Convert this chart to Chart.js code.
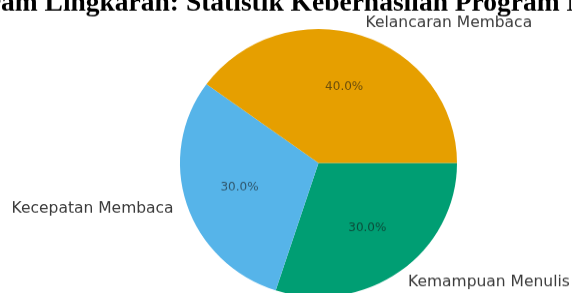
<!DOCTYPE html>
<html>
<head>
<meta charset="utf-8">
<script src="https://cdn.jsdelivr.net/npm/chart.js@4"></script>
<style>
  html, body { margin: 0; padding: 0; background: #fff; overflow: hidden; }
  #wrap { width: 572px; height: 293px; overflow: hidden; position: relative; }
  /* source picture is slightly squashed vertically */
  #inner { transform: scaleY(0.967); transform-origin: 0 0; }
</style>
</head>
<body>
<div id="wrap"><div id="inner"><canvas id="myChart" width="572" height="330"></canvas></div></div>
<script>
const title = "Diagram Lingkaran: Statistik Keberhasilan Program Membaca";
const categories = ["Kelancaran Membaca", "Kecepatan Membaca", "Kemampuan Menulis"];
const values = [40, 30, 30];
const colors = ["#E69F00", "#56B4E9", "#009E73"];

// matplotlib goes counter-clockwise from 3 o'clock, Chart.js clockwise -> reverse
const order = [2, 1, 0];
const total = values.reduce((a, b) => a + b, 0);

const pieLabels = {
  id: "pieLabels",
  afterDatasetsDraw(chart) {
    const ctx = chart.ctx;
    const meta = chart.getDatasetMeta(0);
    ctx.save();
    meta.data.forEach((arc, i) => {
      const idx = order[i];
      const mid = (arc.startAngle + arc.endAngle) / 2;
      const r = arc.outerRadius;
      const c = Math.cos(mid), s = Math.sin(mid);
      // outer label
      ctx.font = "15.5px 'DejaVu Sans'";
      ctx.fillStyle = "#3a3a3a";
      ctx.textBaseline = "middle";
      ctx.textAlign = c >= 0 ? "left" : "right";
      ctx.fillText(categories[idx], arc.x + 1.1 * r * c, arc.y + 1.1 * r * s);
      // percentage
      ctx.font = "12px 'DejaVu Sans'";
      ctx.fillStyle = "rgba(20,20,20,0.6)";
      ctx.textAlign = "center";
      const pct = (values[idx] / total * 100).toFixed(1) + "%";
      ctx.fillText(pct, arc.x + 0.6 * r * c, arc.y + 0.6 * r * s);
    });
    // title, cut off at the top like the source picture
    ctx.font = "bold 27.5px 'Liberation Serif'";
    ctx.fillStyle = "#000";
    ctx.textAlign = "left";
    ctx.textBaseline = "alphabetic";
    const off = ctx.measureText("Diagr").width;
    ctx.fillText(title, -off + 1, 10.5);
    ctx.restore();
  }
};

new Chart("myChart", {
  type: "pie",
  data: {
    labels: order.map(i => categories[i]),
    datasets: [{
      data: order.map(i => values[i]),
      backgroundColor: order.map(i => colors[i]),
      borderWidth: 0
    }]
  },
  options: {
    responsive: false,
    animation: false,
    rotation: 90,
    layout: { padding: { left: 180, right: 115, top: 30, bottom: 23 } },
    plugins: {
      legend: { display: false },
      tooltip: { enabled: false }
    }
  },
  plugins: [pieLabels]
});
</script>
</body>
</html>
